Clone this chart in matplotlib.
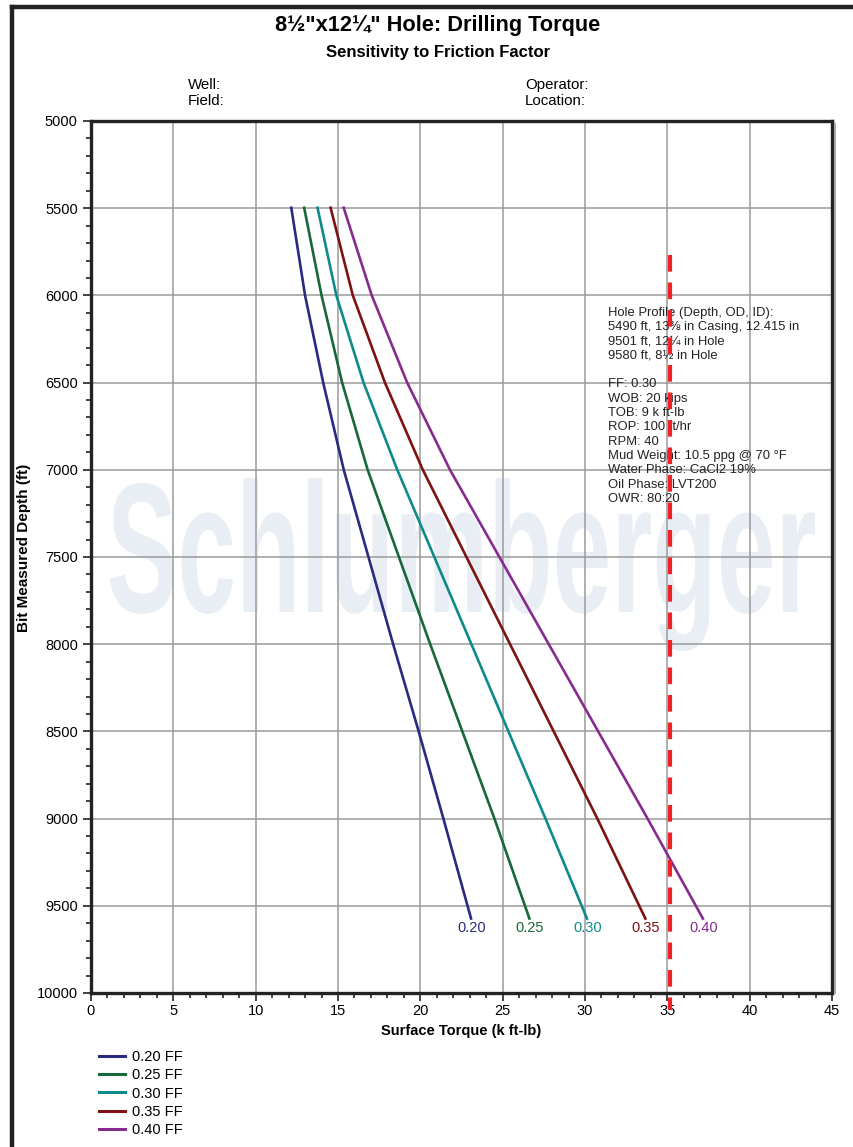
import numpy as np
import matplotlib
matplotlib.use("Agg")
import matplotlib.pyplot as plt
from matplotlib.lines import Line2D
from matplotlib.textpath import TextPath
from matplotlib.patches import PathPatch
from matplotlib.font_manager import FontProperties
from matplotlib.transforms import Affine2D

plt.rcParams['font.family'] = ['Liberation Sans', 'DejaVu Sans']

# ---------- DATA -----------------------
depth = [5490, 6000, 6500, 7000, 7500, 8000, 8500, 9000, 9580]   # ft
ff_labels = ['0.20', '0.25', '0.30', '0.35', '0.40']
torque = {
    '0.20': [12.15, 13.0, 14.1, 15.35, 16.85, 18.35, 19.9, 21.4, 23.1],
    '0.25': [12.93, 14.0, 15.25, 16.8, 18.7, 20.6, 22.55, 24.5, 26.65],
    '0.30': [13.74, 14.9, 16.55, 18.6, 20.85, 23.1, 25.35, 27.6, 30.15],
    '0.35': [14.53, 15.9, 17.85, 20.15, 22.8, 25.45, 28.1, 30.75, 33.7],
    '0.40': [15.32, 17.05, 19.2, 21.8, 24.8, 27.8, 30.8, 33.8, 37.2],
}
colors = ['#2a2a80', '#17683a', '#0f8a8a', '#7e1212', '#862c8f']
limit_torque = 35.15     # k ft-lb, torque limit line
limit_top = 5770         # ft, where the limit line starts

info_lines = [
    "Hole Profile (Depth, OD, ID):",
    "5490 ft, 13\u215c in Casing, 12.415 in",
    "9501 ft, 12\u00bc in Hole",
    "9580 ft, 8\u00bd in Hole",
    "",
    "FF: 0.30",
    "WOB: 20 kips",
    "TOB: 9 k ft-lb",
    "ROP: 100 ft/hr",
    "RPM: 40",
    "Mud Weight: 10.5 ppg @ 70 \u00b0F",
    "Water Phase: CaCl2 19%",
    "Oil Phase: LVT200",
    "OWR: 80:20",
]

# ---------- PLOT -----------------------
W, H = 854, 1147
fig = plt.figure(figsize=(W/100, H/100), dpi=100)
ax = fig.add_axes([91/W, 1 - 993/H, 741/W, 872/H])

# page frame (top and left edges)
fig.add_artist(Line2D([12/W, 12/W], [0, 1 - 7/H], color='#222222', lw=3.2,
                      transform=fig.transFigure))
fig.add_artist(Line2D([12/W, 1], [1 - 7/H, 1 - 7/H], color='#222222', lw=3.2,
                      transform=fig.transFigure))

# watermark, squeezed to a condensed look (pixel coordinates)
tp = TextPath((0, 0), 'Schlumberger', size=100,
              prop=FontProperties(family='Liberation Sans', weight='bold'))
ext = tp.get_extents()
sx = 705 / ext.width
sy = 134 / ext.y1
wm = PathPatch(tp, transform=Affine2D().scale(sx, sy).translate(110 - ext.x0 * sx, H - 612),
               facecolor='#e9edf4', edgecolor='none', zorder=0.5, clip_on=False)
ax.add_artist(wm)

for lab, col in zip(ff_labels, colors):
    t = torque[lab]
    ax.plot(t, depth, color=col, lw=1.9, zorder=3, solid_capstyle='butt')
    ax.text(t[-1], depth[-1] + 5, lab, color=col, ha='center', va='top', fontsize=10.5, zorder=3)

ax.text(0.698, 0.787, "\n".join(info_lines), transform=ax.transAxes, ha='left', va='top',
        fontsize=9.4, linespacing=1.26, color='#222222', zorder=3)

ax.plot([limit_torque, limit_torque], [limit_top, 10100], color='#ee2227', lw=3.0,
        dashes=(4.0, 2.6), clip_on=False, zorder=4)

ax.set_xlim(0, 45)
ax.set_ylim(10000, 5000)
ax.set_xticks(np.arange(0, 46, 5))
ax.set_yticks(np.arange(5000, 10001, 500))
ax.set_xticks(np.arange(0, 46, 1), minor=True)
ax.set_yticks(np.arange(5000, 10001, 100), minor=True)
ax.grid(True, which='major', color='#9a9a9a', lw=1.1, zorder=1)
ax.set_axisbelow(True)
ax.tick_params(which='major', direction='out', length=6, width=1.2, labelsize=10.5, color='#222222')
ax.tick_params(axis='x', which='major', pad=2)
ax.tick_params(which='minor', direction='out', length=3.5, width=1.2, color='#222222')
for s in ax.spines.values():
    s.set_linewidth(2.4)
    s.set_color('#222222')

ax.set_xlabel('Surface Torque (k ft-lb)', fontweight='bold', fontsize=10.5, labelpad=4)
ax.set_ylabel('Bit Measured Depth (ft)', fontweight='bold', fontsize=11)
ax.yaxis.set_label_coords(31/W, 1 - 548/H, transform=fig.transFigure)

# right-hand shadow of the frame
fig.add_artist(Line2D([835/W, 835/W], [1 - 993/H, 1 - 124/H], color='#aaaaaa', lw=1.5,
                      transform=fig.transFigure))

fig.text(438/W, 1 - 25/H, '8\u00bd"x12\u00bc" Hole: Drilling Torque', ha='center', va='center',
         fontsize=15.7, fontweight='bold')
fig.text(438/W, 1 - 52/H, 'Sensitivity to Friction Factor', ha='center', va='center',
         fontsize=12, fontweight='bold')
fig.text(188/W, 1 - 85/H, 'Well:', ha='left', va='center', fontsize=10.8)
fig.text(188/W, 1 - 101/H, 'Field:', ha='left', va='center', fontsize=10.8)
fig.text(525/W, 1 - 85/H, 'Operator:', ha='left', va='center', fontsize=10.8)
fig.text(525/W, 1 - 101/H, 'Location:', ha='left', va='center', fontsize=10.8)

handles = [Line2D([], [], color=c, lw=2.2) for c in colors]
fig.legend(handles, [f'{l} FF' for l in ff_labels], loc='upper left',
           bbox_to_anchor=(93/W, 1 - 1044/H), frameon=False, fontsize=10.5,
           handlelength=1.8, handletextpad=0.5, labelspacing=0.3, borderaxespad=0)

fig.savefig('out.png', dpi=100)
